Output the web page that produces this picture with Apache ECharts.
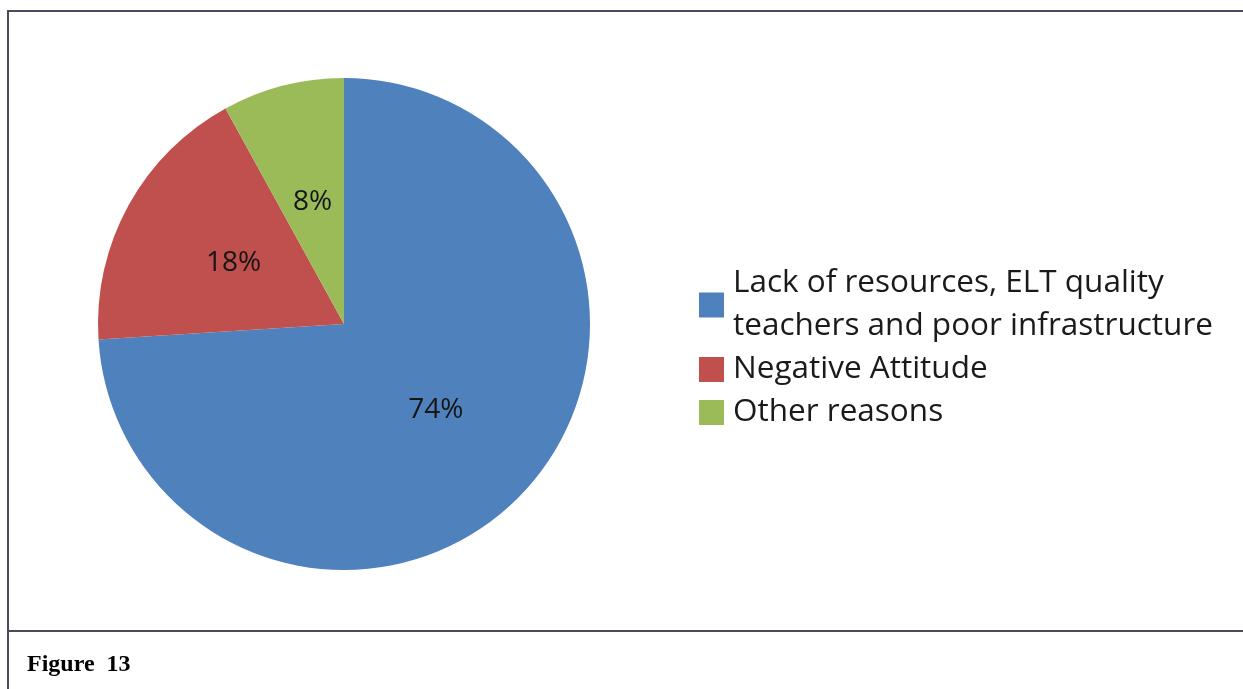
<!DOCTYPE html>
<html>
<head>
<meta charset="utf-8">
<style>
  html, body { margin: 0; padding: 0; background: #ffffff; }
  #chart { width: 1243px; height: 689px; }
</style>
<script src="https://cdn.jsdelivr.net/npm/echarts@6/dist/echarts.min.js"></script>
</head>
<body>
<div id="chart"></div>
<script>
// Reasons given, share of responses (%)
const categories = [
  'Lack of resources, ELT quality teachers and poor infrastructure',
  'Negative Attitude',
  'Other reasons'
];
const shares = [74, 18, 8];
const sliceColors = ['#4F81BD', '#C0504D', '#9BBB59'];
const caption = 'Figure  13';

// legend text wraps the long first entry onto two lines
const legendLines = {
  'Lack of resources, ELT quality teachers and poor infrastructure':
    'Lack of resources, ELT quality\nteachers and poor infrastructure'
};

const frameColor = '#4a4a5e';

const chart = echarts.init(document.getElementById('chart'), null, { renderer: 'canvas' });

chart.setOption({
  backgroundColor: '#ffffff',
  animation: false,
  color: sliceColors,
  legend: {
    orient: 'vertical',
    left: 694,
    top: 257,
    itemWidth: 25,
    itemHeight: 25,
    itemGap: 0,
    icon: 'rect',
    selectedMode: false,
    formatter: name => legendLines[name] || name,
    textStyle: {
      fontFamily: 'Open Sans',
      fontSize: 31.5,
      lineHeight: 43,
      color: '#1a1a1a',
      padding: [0, 0, 0, 4]
    }
  },
  series: [{
    type: 'pie',
    center: [344, 324],
    radius: [0, 246],
    startAngle: 90,
    clockwise: true,
    avoidLabelOverlap: false,
    silent: true,
    itemStyle: { borderWidth: 0 },
    label: {
      show: true,
      position: 'inside',
      formatter: '{c}%',
      fontFamily: 'Open Sans',
      fontSize: 28,
      color: '#151515'
    },
    labelLine: { show: false },
    data: categories.map((name, i) => ({ name, value: shares[i] }))
  }],
  graphic: [
    // outer frame: left and top edges
    { type: 'line', shape: { x1: 8, y1: 11, x2: 8, y2: 689 },
      style: { stroke: frameColor, lineWidth: 2 } },
    { type: 'line', shape: { x1: 7, y1: 11, x2: 1243, y2: 11 },
      style: { stroke: frameColor, lineWidth: 2 } },
    // rule above the caption
    { type: 'line', shape: { x1: 7, y1: 631, x2: 1243, y2: 631 },
      style: { stroke: frameColor, lineWidth: 2 } },
    { type: 'text', left: 27, top: 653,
      style: { text: caption, fontFamily: 'Liberation Serif', fontWeight: 'bold',
               fontSize: 24, fill: '#000000' } }
  ]
});
</script>
</body>
</html>
